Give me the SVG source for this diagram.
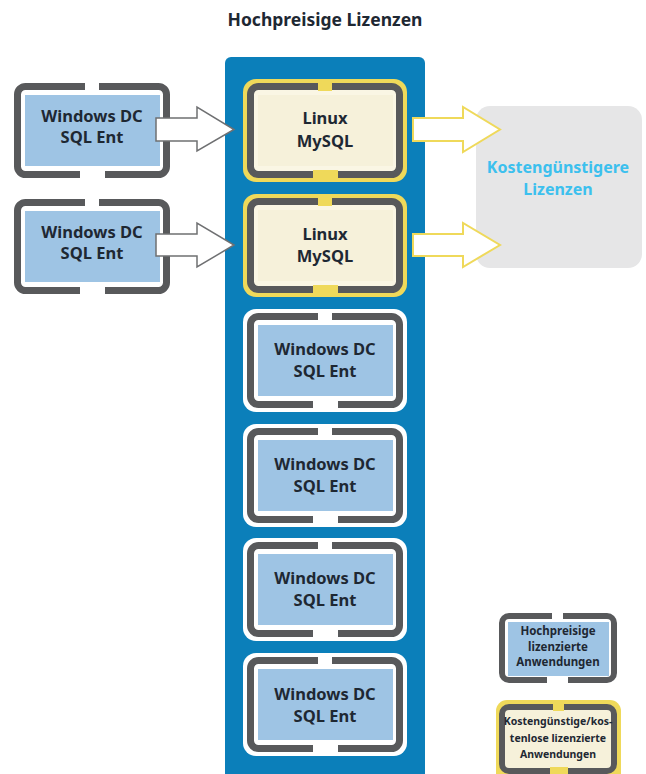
<svg xmlns="http://www.w3.org/2000/svg" xmlns:xlink="http://www.w3.org/1999/xlink" width="646" height="774" viewBox="0 0 646 774">
<defs>
<style>
text{font-family:"Noto Sans","Open Sans","Liberation Sans",sans-serif;font-weight:700;text-anchor:middle;fill:#1e2833}
.t{font-size:16.5px}
.title{font-size:17.5px}
.cheap{font-size:16px;fill:#3cc0ee}
.lg1{font-size:11.5px}
.lg2{font-size:10.5px}
.frame{fill:none;stroke:#58595b;stroke-width:7}
.lframe{fill:none;stroke:#58595b;stroke-width:6}
.arrL{fill:#fff;stroke:#6f7072;stroke-width:1.5;stroke-linejoin:miter}
.arrR{fill:#fff;stroke:#efd95a;stroke-width:2;stroke-linejoin:miter}
</style>
<g id="tplWin">
<rect x="-4" y="-4" width="164" height="103" rx="13" fill="#fff"/>
<rect x="11" y="12" width="135" height="71" fill="#9ec4e4"/>
<rect class="frame" x="3.5" y="3.5" width="149" height="88" rx="8"/>
<rect x="71" y="-1" width="14" height="9" fill="#fff"/>
<rect x="66" y="87" width="25" height="9" fill="#fff"/>
</g>
<g id="tplLin">
<rect x="-4" y="-4" width="164" height="103" rx="13" fill="#efd95a"/>
<rect x="3.5" y="3.5" width="149" height="88" rx="8" fill="#faf6e4"/>
<rect x="11" y="12" width="135" height="71" fill="#f6f1da"/>
<rect class="frame" x="3.5" y="3.5" width="149" height="88" rx="8"/>
<rect x="71" y="-1" width="14" height="9" fill="#efd95a"/>
<rect x="66" y="87" width="25" height="9" fill="#efd95a"/>
</g>
</defs>
<rect width="646" height="774" fill="#fff"/>
<text class="title" x="325" y="26">Hochpreisige Lizenzen</text>
<rect id="column" x="225" y="57" width="200" height="730" rx="6" fill="#0b7fba"/>
<g id="cheap-target">
<rect x="476" y="106" width="166" height="162" rx="14" fill="#e6e6e7"/>
<text class="cheap" x="558" y="173">Kostengünstigere</text>
<text class="cheap" x="558" y="195">Lizenzen</text>
</g>
<g id="connectors">
<path class="arrR" d="M413,118 H463 V107 L500,129.5 L463,152 V141 H413 Z"/>
<path class="arrR" d="M413,234 H463 V223 L500,245 L463,267 V256 H413 Z"/>
</g>
<g id="lin1"><use xlink:href="#tplLin" x="247" y="83"/><text class="t" x="325" y="124">Linux</text><text class="t" x="325" y="147">MySQL</text></g>
<g id="lin2"><use xlink:href="#tplLin" x="247" y="198"/><text class="t" x="325" y="240">Linux</text><text class="t" x="325" y="262">MySQL</text></g>
<g id="win3"><use xlink:href="#tplWin" x="247" y="313"/><text class="t" x="325" y="355">Windows DC</text><text class="t" x="325" y="377">SQL Ent</text></g>
<g id="win4"><use xlink:href="#tplWin" x="247" y="428"/><text class="t" x="325" y="470">Windows DC</text><text class="t" x="325" y="492">SQL Ent</text></g>
<g id="win5"><use xlink:href="#tplWin" x="247" y="542"/><text class="t" x="325" y="584">Windows DC</text><text class="t" x="325" y="606">SQL Ent</text></g>
<g id="win6"><use xlink:href="#tplWin" x="247" y="657"/><text class="t" x="325" y="700">Windows DC</text><text class="t" x="325" y="722">SQL Ent</text></g>
<g id="left1"><use xlink:href="#tplWin" x="14" y="83"/><text class="t" x="92" y="122">Windows DC</text><text class="t" x="92" y="143">SQL Ent</text></g>
<g id="left2"><use xlink:href="#tplWin" x="14" y="199"/><text class="t" x="92" y="238">Windows DC</text><text class="t" x="92" y="259">SQL Ent</text></g>
<g id="connectors-left">
<path class="arrL" d="M156,118 H197 V107 L234,129.5 L197,151 V141 H156 Z"/>
<path class="arrL" d="M156,234 H197 V223 L234,245 L197,267 V256 H156 Z"/>
</g>
<g id="legend-high">
<rect x="508" y="622" width="101" height="54" fill="#9ec4e4"/>
<rect class="lframe" x="502" y="616" width="112" height="64" rx="7"/>
<rect x="552" y="612" width="11" height="8" fill="#fff"/>
<rect x="547" y="676" width="21" height="8" fill="#fff"/>
<text class="lg1" x="558" y="635">Hochpreisige</text>
<text class="lg1" x="558" y="650.5">lizenzierte</text>
<text class="lg1" x="558" y="666">Anwendungen</text>
</g>
<g id="legend-low">
<rect x="496" y="700" width="125" height="84" rx="11" fill="#efd95a"/>
<rect x="502" y="707" width="112" height="64" rx="7" fill="#f6f1da"/>
<rect class="lframe" x="502" y="707" width="112" height="64" rx="7"/>
<rect x="553" y="703" width="11" height="8" fill="#efd95a"/>
<rect x="550" y="767" width="18" height="8" fill="#efd95a"/>
<text class="lg2" x="558" y="725">Kostengünstige/kos-</text>
<text class="lg2" x="558" y="742">tenlose lizenzierte</text>
<text class="lg2" x="558" y="758">Anwendungen</text>
</g>
</svg>
